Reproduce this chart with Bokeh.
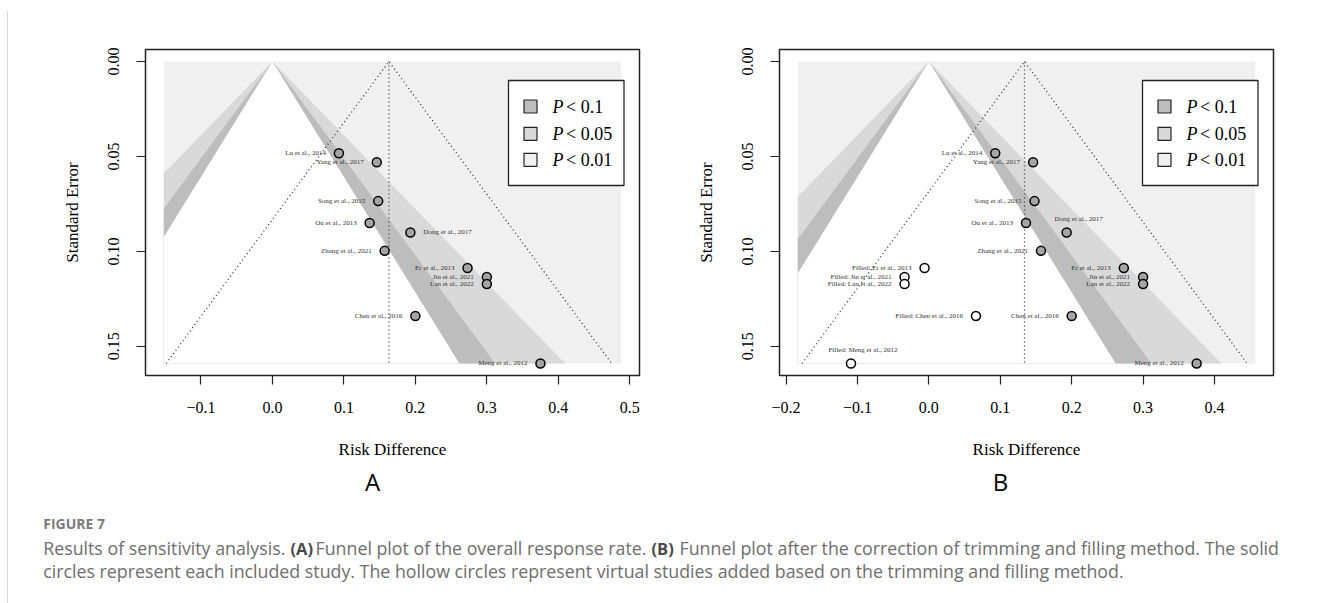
from bokeh.plotting import figure
from bokeh.models import Range1d, FixedTicker, CustomJSTickFormatter
from bokeh.layouts import row, column
from bokeh.core.properties import value
from bokeh.embed import file_html
from bokeh.resources import INLINE

# ---------------- data ----------------
studies = ["Lu et al., 2014", "Yang et al., 2017", "Song et al., 2015", "Ou et al., 2013",
           "Dong et al., 2017", "Zhang et al., 2021", "Er et al., 2013", "Jin et al., 2021",
           "Lan et al., 2022", "Chen et al., 2016", "Meng et al., 2012"]
risk_diff = [0.093, 0.146, 0.148, 0.136, 0.193, 0.157, 0.273, 0.300, 0.300, 0.200, 0.375]
std_err = [0.0483, 0.0530, 0.0735, 0.0850, 0.0900, 0.0997, 0.1087, 0.1135, 0.1172, 0.1340, 0.1590]

filled_studies = ["Filled: Er et al., 2013", "Filled: Jin et al., 2021", "Filled: Lan et al., 2022",
                  "Filled: Chen et al., 2016", "Filled: Meng et al., 2012"]
filled_rd = [-0.006, -0.034, -0.034, 0.066, -0.109]
filled_se = [0.1087, 0.1135, 0.1172, 0.1340, 0.1590]

pooled_a = 0.163
pooled_b = 0.134
xlim_a = (-0.152, 0.488)
xlim_b = (-0.1835, 0.457)
xticks_a = [-0.1, 0.0, 0.1, 0.2, 0.3, 0.4, 0.5]
xticks_b = [-0.2, -0.1, 0.0, 0.1, 0.2, 0.3, 0.4]
yticks = [0.0, 0.05, 0.10, 0.15]
legend_labels = ["< 0.1", "< 0.05", "< 0.01"]
contour_z = [1.645, 1.96, 2.576]

# label placement (layout only)
sides_a = ["left"] * 4 + ["right"] + ["left"] * 6
sides_b = ["left"] * 4 + ["above"] + ["left"] * 6
filled_sides = ["left", "left", "left", "left", "above"]

# ---------------- style ----------------
LIGHT, MID, DARK = "#f0f0f0", "#d9d9d9", "#bdbdbd"
PT_FILL = "#a5a5a5"
SERIF = "Liberation Serif"
SANS = "Open Sans"
FW, FH = 494, 326
PANEL_BOTTOM = 86
CAP_TOP = 10 + 39 + FH + PANEL_BOTTOM


def contour_polygon(z, xl, xr, ymax):
    xs, ys = [0.0], [0.0]
    if z * ymax <= xr:
        xs.append(z * ymax); ys.append(ymax)
    else:
        xs += [xr, xr]; ys += [xr / z, ymax]
    if -z * ymax >= xl:
        xs.append(-z * ymax); ys.append(ymax)
    else:
        xs += [xl, xl]; ys += [ymax, -xl / z]
    return xs, ys


def add_labels(p, xs, ys, names, sides):
    groups = {
        "left": dict(x_offset=-13, y_offset=0, text_align="right"),
        "right": dict(x_offset=13, y_offset=0, text_align="left"),
        "above": dict(x_offset=12, y_offset=-13, text_align="center"),
    }
    for side, kw in groups.items():
        idx = [i for i, s in enumerate(sides) if s == side]
        if not idx:
            continue
        p.text(x=[xs[i] for i in idx], y=[ys[i] for i in idx], text=[names[i] for i in idx],
               text_font=value(SERIF), text_font_size="7px", text_color="#333333",
               text_baseline="middle", **kw)


def make_panel(xlim, xticks, est, min_left, min_right, with_filled):
    semax = max(std_err)
    x0, x1 = xlim
    pad = 0.04 * (x1 - x0)
    xr = Range1d(x0 - pad, x1 + pad)
    ypad = 0.04 * semax
    yr = Range1d(semax + ypad, -ypad)
    p = figure(frame_width=FW, frame_height=FH, x_range=xr, y_range=yr,
               min_border_left=min_left, min_border_right=min_right,
               min_border_top=39, min_border_bottom=PANEL_BOTTOM,
               output_backend="svg", toolbar_location=None,
               background_fill_color="white", border_fill_color="white")
    p.outline_line_color = "#222222"
    p.outline_line_width = 1.5
    p.xgrid.visible = False
    p.ygrid.visible = False

    def fx(px):
        return xr.start + px / FW * (xr.end - xr.start)

    def fy(py):
        return yr.end + py / FH * (yr.start - yr.end)

    # contour regions
    p.quad(left=x0, right=x1, top=0, bottom=semax, fill_color=LIGHT, line_color=None)
    for z, col in zip(reversed(contour_z), [MID, DARK, "white"]):
        px_, py_ = contour_polygon(z, x0, x1, semax)
        p.patch(px_, py_, fill_color=col, line_color=None)

    # pseudo confidence funnel
    p.line([est, est], [0, semax], line_color="#333333", line_dash="1 3", line_width=1.3)
    p.line([est - 1.96 * semax, est, est + 1.96 * semax], [semax, 0, semax],
           line_color="#333333", line_dash="1 3", line_width=1.3)

    # studies
    p.scatter(risk_diff, std_err, size=9, marker="circle", fill_color=PT_FILL,
              line_color="black", line_width=1.5)
    add_labels(p, risk_diff, std_err, studies, sides_b if with_filled else sides_a)
    if with_filled:
        p.scatter(filled_rd, filled_se, size=9, marker="circle", fill_color="white",
                  line_color="black", line_width=1.5)
        add_labels(p, filled_rd, filled_se, filled_studies, filled_sides)

    # legend
    p.quad(left=fx(363), right=fx(478.5), top=fy(31), bottom=fy(136),
           fill_color="white", line_color="#222222", line_width=1.3)
    rows_y = [57, 84.3, 110.3]
    for ry, col, lab in zip(rows_y, [DARK, MID, LIGHT], legend_labels):
        p.quad(left=fx(378.5), right=fx(391.5), top=fy(ry - 6.5), bottom=fy(ry + 6.5),
               fill_color=col, line_color="#222222", line_width=1.2)
        p.text(x=[fx(407)], y=[fy(ry)], text=["P"], text_font=value(SERIF),
               text_font_style="italic", text_font_size="18px", text_baseline="middle",
               text_align="left", text_color="black")
        p.text(x=[fx(420.5)], y=[fy(ry)], text=[lab], text_font=value(SERIF),
               text_font_size="18px", text_baseline="middle", text_align="left",
               text_color="black")

    # axes
    p.xaxis.ticker = FixedTicker(ticks=xticks)
    p.xaxis.formatter = CustomJSTickFormatter(
        code="return (tick < -1e-9 ? '\u2212' : '') + Math.abs(tick).toFixed(1);")
    p.yaxis.ticker = FixedTicker(ticks=yticks)
    p.yaxis.formatter = CustomJSTickFormatter(code="return Math.abs(tick).toFixed(2);")
    p.xaxis.axis_label = "Risk Difference"
    p.yaxis.axis_label = "Standard Error"
    p.yaxis.major_label_orientation = "vertical"
    for ax in (p.xaxis, p.yaxis):
        ax.axis_line_color = None
        ax.major_tick_in = 0
        ax.major_tick_out = 9
        ax.major_tick_line_color = "#222222"
        ax.major_tick_line_width = 1.2
        ax.minor_tick_line_color = None
        ax.major_label_text_font = SERIF
        ax.major_label_text_font_size = "16px"
        ax.major_label_text_color = "black"
        ax.axis_label_text_font = SERIF
        ax.axis_label_text_font_size = "17px"
        ax.axis_label_text_font_style = "normal"
        ax.axis_label_text_color = "black"
    p.xaxis.major_label_standoff = 17
    p.xaxis.axis_label_standoff = 24
    p.yaxis.major_label_standoff = 17
    p.yaxis.axis_label_standoff = 24
    return p


fig_a = make_panel(xlim_a, xticks_a, pooled_a, 137, 51, False)
fig_b = make_panel(xlim_b, xticks_b, pooled_b, 89, 56, True)


def blank(w, h, xr, yr):
    f = figure(width=w, height=h, x_range=Range1d(*xr), y_range=Range1d(*yr),
               x_axis_type=None, y_axis_type=None, min_border=0,
               output_backend="svg", toolbar_location=None,
               background_fill_color="white", border_fill_color="white")
    f.outline_line_color = None
    f.xgrid.visible = False
    f.ygrid.visible = False
    return f


FRAME_COL = "#b5b5b5"
top_strip = blank(1329, 10, (0, 1329), (10, 0))
top_strip.quad(left=7, right=1329, top=9, bottom=10, fill_color=FRAME_COL, line_color=None)
left_strip = blank(8, 593, (0, 8), (603, 10))
left_strip.quad(left=7, right=8, top=10, bottom=603, fill_color=FRAME_COL, line_color=None)

cap = blank(1321, 603 - CAP_TOP, (8, 1329), (603, CAP_TOP))
cap.text(x=[372, 1000], y=[481, 481], text=["A", "B"], text_font=value(SANS),
         text_font_size="24px", text_align="center", text_baseline="middle", text_color="black")
cap.text(x=[42.7], y=[523], text=["FIGURE 7"], text_font=value(SANS), text_font_size="14px",
         text_font_style="bold", text_align="left", text_baseline="middle", text_color="#7a7a7a")
CAP_COL = "#6e6e6e"
segs = [
    (42.7, 547.7, "Results of sensitivity analysis.", "normal", CAP_COL, "17.8px"),
    (290, 547.7, "(A)", "bold", "#4a4a4a", "16.5px"),
    (315, 547.7, "Funnel plot of the overall response rate.", "normal", CAP_COL, "17.8px"),
    (651, 547.7, "(B)", "bold", "#4a4a4a", "16.5px"),
    (679, 547.7, "Funnel plot after the correction of trimming and filling method. The solid", "normal", CAP_COL, "17.8px"),
    (42.7, 570.5, "circles represent each included study. The hollow circles represent virtual studies added based on the trimming and filling method.", "normal", CAP_COL, "17.8px"),
]
for sx, sy, st, sw, sc, fs in segs:
    cap.text(x=[sx], y=[sy], text=[st], text_font=value(SANS), text_font_size=fs,
             text_font_style=sw, text_align="left", text_baseline="middle", text_color=sc)

layout = column(top_strip, row(left_strip, column(row(fig_a, fig_b), cap)))

open("out.html", "w").write(file_html(layout, INLINE))
